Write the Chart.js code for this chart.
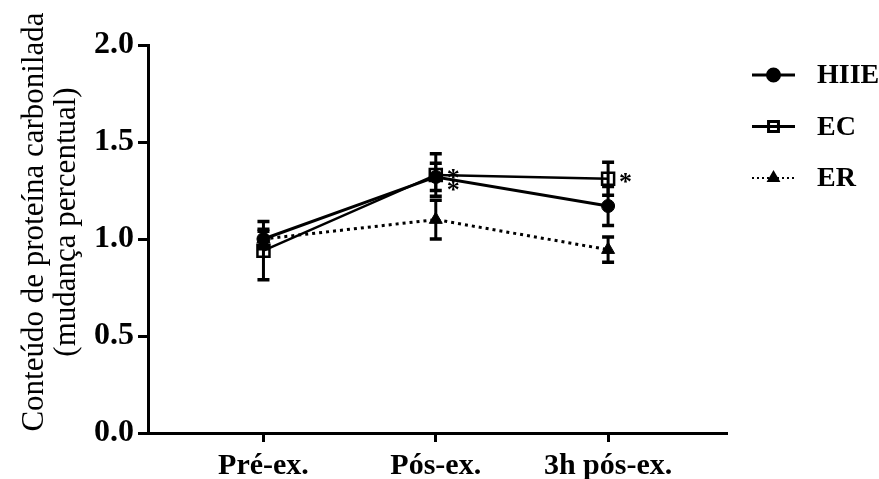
<!DOCTYPE html>
<html>
<head>
<meta charset="utf-8">
<script src="https://cdn.jsdelivr.net/npm/chart.js@4.4.1/dist/chart.umd.min.js"></script>
<style>
  html, body { margin: 0; padding: 0; background: #fff; }
  #wrap { width: 879px; height: 479px; position: relative; }
</style>
</head>
<body>
<div id="wrap"><canvas id="c"></canvas></div>
<script>
// Time points and group means (fold change) with SEM
const timepoints = ['Pré-ex.', 'Pós-ex.', '3h pós-ex.'];
const yTicks = [0, 0.5, 1.0, 1.5, 2.0];

const hiieMean = [1.00, 1.32, 1.17];
const hiieErr  = [0.05, 0.07, 0.10];
const ecMean   = [0.94, 1.33, 1.31];
const ecErr    = [0.15, 0.11, 0.085];
const erMean   = [1.00, 1.10, 0.945];
const erErr    = [0.04, 0.10, 0.065];

// significance markers (vs. Pré-ex.)
const hiieSig = ['', '*', ''];
const ecSig   = ['', '*', '*'];
const erSig   = ['', '', ''];

const yTitle = ['Conteúdo de proteína carbonilada', '(mudança percentual)'];
const SERIF = '"Liberation Serif", "Times New Roman", serif';

const toPoints = arr => arr.map((v, i) => ({ x: i, y: v }));

const datasets = [
  {
    label: 'HIIE', data: toPoints(hiieMean), err: hiieErr, sig: hiieSig, sigDy: 7,
    borderColor: '#000', backgroundColor: '#000', borderWidth: 3,
    pointStyle: 'circle', pointRadius: 6.5, pointBorderWidth: 1,
    pointBackgroundColor: '#000', pointBorderColor: '#000'
  },
  {
    label: 'EC', data: toPoints(ecMean), err: ecErr, sig: ecSig, sigDy: -3,
    borderColor: '#000', backgroundColor: 'rgba(0,0,0,0)', borderWidth: 2.5,
    pointStyle: 'rect', pointRadius: 8.5, pointBorderWidth: 2.5,
    pointBackgroundColor: 'rgba(0,0,0,0)', pointBorderColor: '#000'
  },
  {
    label: 'ER', data: toPoints(erMean), err: erErr, sig: erSig, sigDy: 0,
    borderColor: '#000', backgroundColor: '#000', borderWidth: 3, borderDash: [3, 4],
    pointStyle: 'triangle', pointRadius: 7.5, pointBorderWidth: 1,
    pointBackgroundColor: '#000', pointBorderColor: '#000'
  }
];

// Error bars and significance asterisks
const errorBars = {
  id: 'errorBars',
  afterDatasetsDraw(chart) {
    const { ctx, scales: { x, y } } = chart;
    ctx.save();
    ctx.strokeStyle = '#000';
    ctx.fillStyle = '#000';
    chart.data.datasets.forEach(ds => {
      ds.data.forEach((p, i) => {
        const e = ds.err[i];
        const px = x.getPixelForValue(p.x);
        const yTop = y.getPixelForValue(p.y + e);
        const yBot = y.getPixelForValue(p.y - e);
        ctx.lineWidth = 3;
        ctx.setLineDash([]);
        ctx.beginPath();
        ctx.moveTo(px, yTop); ctx.lineTo(px, yBot);
        ctx.stroke();
        ctx.lineWidth = 3.5;
        ctx.beginPath();
        ctx.moveTo(px - 6, yTop); ctx.lineTo(px + 6, yTop);
        ctx.moveTo(px - 6, yBot); ctx.lineTo(px + 6, yBot);
        ctx.stroke();
        if (ds.sig[i]) {
          const py = y.getPixelForValue(p.y);
          ctx.font = 'bold 26px ' + SERIF;
          ctx.textAlign = 'left';
          ctx.textBaseline = 'alphabetic';
          ctx.fillText(ds.sig[i], px + 11, py + 14 + ds.sigDy);
        }
      });
    });
    ctx.restore();
  }
};

// Legend with line sample and marker, plus the rotated y title
const sideText = {
  id: 'sideText',
  afterDraw(chart) {
    const { ctx } = chart;
    ctx.save();
    // y-axis title
    ctx.fillStyle = '#000';
    ctx.font = '31px ' + SERIF;
    ctx.textAlign = 'center';
    ctx.textBaseline = 'middle';
    yTitle.forEach((t, k) => {
      ctx.save();
      ctx.translate(35 + k * 32, 222);
      ctx.rotate(-Math.PI / 2);
      ctx.fillText(t, 0, 0);
      ctx.restore();
    });
    // legend
    chart.data.datasets.forEach((ds, i) => {
      const cy = 75 + i * 51.5;
      ctx.strokeStyle = '#000';
      ctx.lineWidth = ds.label === 'ER' ? 2 : 3;
      ctx.setLineDash(ds.borderDash ? [2, 3] : []);
      ctx.beginPath();
      ctx.moveTo(752, cy); ctx.lineTo(795, cy);
      ctx.stroke();
      ctx.setLineDash([]);
      ctx.fillStyle = ds.label === 'EC' ? 'rgba(0,0,0,0)' : '#000';
      Chart.helpers.drawPoint(ctx, {
        pointStyle: ds.pointStyle,
        radius: ds.label === 'EC' ? 7 : 6,
        borderWidth: ds.label === 'EC' ? 2.5 : 1,
        rotation: 0
      }, 773.5, cy);
      ctx.fillStyle = '#000';
      ctx.font = 'bold 28px ' + SERIF;
      ctx.textAlign = 'left';
      ctx.textBaseline = 'middle';
      ctx.fillText(ds.label, 817, cy + 1);
    });
    ctx.restore();
  }
};

new Chart(document.getElementById('c'), {
  type: 'line',
  data: { datasets },
  plugins: [errorBars, sideText],
  options: {
    responsive: true,
    maintainAspectRatio: false,
    animation: false,
    clip: false,
    layout: { padding: { top: 45, right: 152, left: 0, bottom: 0 } },
    plugins: { legend: { display: false }, tooltip: { enabled: false } },
    elements: { line: { tension: 0, borderCapStyle: 'butt' } },
    scales: {
      x: {
        type: 'linear',
        min: -0.67,
        max: 2.69,
        afterBuildTicks: s => { s.ticks = timepoints.map((_, i) => ({ value: i })); },
        afterFit: s => { s.height = 46; },
        ticks: {
          callback: v => timepoints[v],
          color: '#000',
          font: { family: SERIF, size: 30, weight: 'bold' },
          padding: 6,
          maxRotation: 0,
          autoSkip: false
        },
        grid: { drawOnChartArea: false, drawTicks: true, tickLength: 9, tickWidth: 3, tickColor: '#000' },
        border: { display: true, color: '#000', width: 3 }
      },
      y: {
        min: 0,
        max: 2,
        afterBuildTicks: s => { s.ticks = yTicks.map(v => ({ value: v })); },
        afterFit: s => { s.width = 148; },
        ticks: {
          callback: v => v.toFixed(1),
          color: '#000',
          font: { family: SERIF, size: 32, weight: 'bold' },
          padding: 4
        },
        grid: { drawOnChartArea: false, drawTicks: true, tickLength: 10, tickWidth: 3, tickColor: '#000' },
        border: { display: true, color: '#000', width: 3 }
      }
    }
  }
});
</script>
</body>
</html>
